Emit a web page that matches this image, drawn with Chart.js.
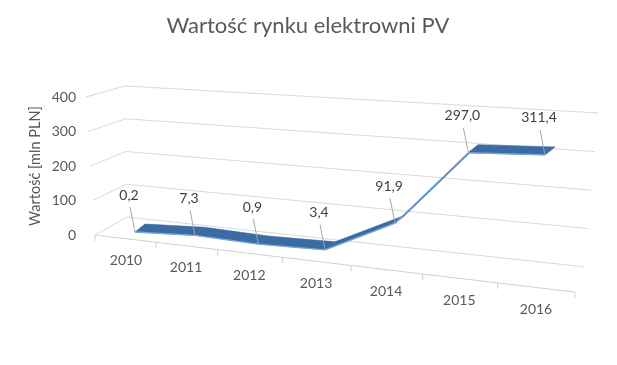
<!DOCTYPE html>
<html>
<head>
<meta charset="utf-8">
<script src="https://cdn.jsdelivr.net/npm/chart.js@4"></script>
<style>
  html, body { margin: 0; padding: 0; background: #ffffff; }
</style>
</head>
<body>
<canvas id="pvChart" width="617" height="365"></canvas>
<script>
// market value of PV power plants, mln PLN
const years = ["2010", "2011", "2012", "2013", "2014", "2015", "2016"];
const marketValue = [0.2, 7.3, 0.9, 3.4, 91.9, 297.0, 311.4];
const yMax = 400;
const yStep = 100;

const titleText = "Wartość rynku elektrowni PV";
const axisTitle = "Wartość [mln PLN]";

// fake 3d look
const WARP = 0.146;      // categories spread out towards the viewer
const SHEAR = 0.1;       // floor drops to the right
const STRETCH = 1.1;     // series plane is closer than the side wall
const LIFT = -2.9;
const DEPTH = { x: 10, y: -8 };
const FLOOR_SLOPE = 0.119;

const grey = "#595959";
const font = "Lato";

// category scale with a bit of perspective
class PerspectiveScale extends Chart.CategoryScale {
  getPixelForDecimal(decimal) {
    return super.getPixelForDecimal(decimal * (1 - WARP) + WARP * decimal * decimal);
  }
}
PerspectiveScale.id = "perspective";
PerspectiveScale.defaults = Chart.CategoryScale.defaults;
Chart.register(PerspectiveScale);

function planeShift(chart) {
  const base = chart.scales.y.getPixelForValue(0);
  return base * (1 - STRETCH) - SHEAR * chart.chartArea.left + LIFT;
}

function toScreen(chart, pt) {
  return { x: pt.x, y: SHEAR * pt.x + STRETCH * pt.y + planeShift(chart) };
}

const fmt = (v) => v.toFixed(1).replace(".", ",");

const wallsPlugin = {
  id: "walls",
  beforeDatasetsDraw(chart) {
    const ctx = chart.ctx;
    const y = chart.scales.y;
    const { left, right } = chart.chartArea;
    const base = y.getPixelForValue(0);

    ctx.save();
    ctx.strokeStyle = "#d9d9d9";
    ctx.lineWidth = 1;
    for (let v = 0; v <= yMax; v += yStep) {
      const t = v / yMax;
      const py = y.getPixelForValue(v);
      const fx = left - 40 - 9 * t;
      const bx = left - 8 - 2 * t;
      const by = py - 18 + 7 * t;
      const rx = right + 40 + 13 * t;
      const ry = by + (0.109 - 0.052 * t) * (rx - bx);
      ctx.beginPath();
      ctx.moveTo(fx, py);
      ctx.lineTo(bx, by);
      ctx.lineTo(rx, ry);
      ctx.stroke();
    }

    // floor front edge with category ticks
    const meta = chart.getDatasetMeta(0);
    const xs = meta.data.map((p) => p.x);
    const x0 = left - 40;
    const edgeY = (x) => base + FLOOR_SLOPE * (x - x0);
    const bounds = [x0];
    for (let i = 0; i < xs.length - 1; i++) bounds.push((xs[i] + xs[i + 1]) / 2 - 9);
    bounds.push(xs[xs.length - 1] + 30);

    ctx.strokeStyle = "#d0d0d0";
    ctx.beginPath();
    ctx.moveTo(bounds[0], edgeY(bounds[0]));
    ctx.lineTo(bounds[bounds.length - 1], edgeY(bounds[bounds.length - 1]));
    bounds.forEach((bx) => {
      ctx.moveTo(bx, edgeY(bx));
      ctx.lineTo(bx, edgeY(bx) + 6);
    });
    ctx.stroke();

    // category labels along the floor
    ctx.fillStyle = grey;
    ctx.font = "14px " + font;
    ctx.textAlign = "center";
    ctx.textBaseline = "middle";
    chart.data.labels.forEach((lab, i) => {
      const lx = xs[i] - 9;
      ctx.fillText(lab, lx, edgeY(lx) + 22);
    });
    ctx.restore();
  },
  beforeDatasetDraw(chart, args) {
    const ctx = chart.ctx;
    const pts = args.meta.data.map((p) => toScreen(chart, p));
    ctx.save();
    ctx.fillStyle = "#3a6ba3";
    ctx.strokeStyle = "#3a6ba3";
    ctx.lineWidth = 0.6;
    for (let i = 0; i < pts.length - 1; i++) {
      const a = pts[i], b = pts[i + 1];
      ctx.beginPath();
      ctx.moveTo(a.x, a.y);
      ctx.lineTo(b.x, b.y);
      ctx.lineTo(b.x + DEPTH.x, b.y + DEPTH.y);
      ctx.lineTo(a.x + DEPTH.x, a.y + DEPTH.y);
      ctx.closePath();
      ctx.fill();
      ctx.stroke();
    }
    ctx.restore();

    // the line itself is drawn in the tilted plane
    ctx.save();
    ctx.transform(1, SHEAR, 0, STRETCH, 0, planeShift(chart));
  },
  afterDatasetDraw(chart) {
    chart.ctx.restore();
  },
  afterDatasetsDraw(chart) {
    const ctx = chart.ctx;
    const meta = chart.getDatasetMeta(0);
    ctx.save();
    ctx.font = "14px " + font;
    ctx.textAlign = "center";
    ctx.textBaseline = "middle";
    meta.data.forEach((p, i) => {
      const s = toScreen(chart, p);
      ctx.strokeStyle = "#a6a6a6";
      ctx.lineWidth = 1;
      ctx.beginPath();
      ctx.moveTo(s.x - 5, s.y - 25);
      ctx.lineTo(s.x, s.y);
      ctx.stroke();
      ctx.fillStyle = "#404040";
      ctx.fillText(fmt(marketValue[i]), s.x - 6, s.y - 37);
    });
    ctx.restore();
  },
  afterDraw(chart) {
    const ctx = chart.ctx;
    ctx.save();
    ctx.fillStyle = grey;
    ctx.font = "22px " + font;
    ctx.textAlign = "center";
    ctx.textBaseline = "middle";
    ctx.fillText(titleText, 308, 26);
    ctx.restore();
  },
};

const ctx = document.getElementById("pvChart");
new Chart(ctx, {
  type: "line",
  data: {
    labels: years,
    datasets: [
      {
        label: "Wartość",
        data: marketValue,
        borderColor: "#7aa6da",
        borderWidth: 1.2,
        pointRadius: 0,
        tension: 0,
        fill: false,
        clip: false,
      },
    ],
  },
  options: {
    responsive: false,
    animation: false,
    layout: {
      padding: { top: 97, left: 0, right: 72, bottom: 130 },
    },
    plugins: {
      legend: { display: false },
      tooltip: { enabled: false },
    },
    scales: {
      x: {
        type: "perspective",
        display: false,
        offset: false,
      },
      y: {
        min: 0,
        max: yMax,
        ticks: {
          stepSize: yStep,
          padding: 59,
          color: grey,
          font: { family: font, size: 14 },
        },
        grid: { display: false, drawTicks: false },
        border: { display: false },
        title: {
          display: true,
          text: axisTitle,
          color: grey,
          font: { family: font, size: 14.5 },
          padding: { top: 27, bottom: 0 },
        },
        afterFit: (scale) => {
          scale.width = 135;
        },
      },
    },
  },
  plugins: [wallsPlugin],
});
</script>
</body>
</html>
